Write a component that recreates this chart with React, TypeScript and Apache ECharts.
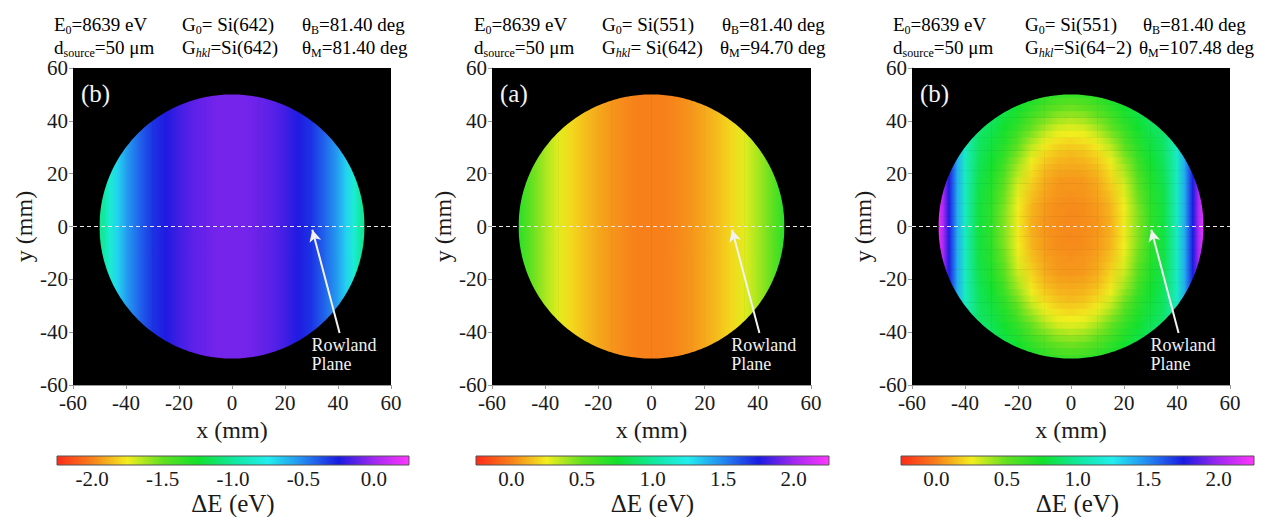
import React, { useEffect, useRef } from 'react';
import * as echarts from 'echarts';

// ---------- data ----------
// distance from the disc centre along x (mm); profiles are mirror-symmetric in x
const X_POS = [0, 5, 10, 15, 20, 25, 30, 35, 40, 43, 46, 48, 50];
// panel 1 (left) ΔE (eV) along x, independent of y
const DE_PANEL1 = [-0.08, -0.08, -0.1, -0.13, -0.18, -0.24, -0.31, -0.42, -0.56, -0.68, -0.83, -0.95, -1.05];
// panel 2 (middle) ΔE (eV) along x, independent of y
const DE_PANEL2 = [0.0, 0.0, 0.02, 0.05, 0.09, 0.14, 0.2, 0.28, 0.38, 0.45, 0.53, 0.6, 0.68];
// panel 3 (right) ΔE (eV): rows at |y| = Y_ROWS, columns at |x| = X_POS
const Y_ROWS = [0, 2.5, 5, 7.5, 10, 12.5, 15, 17.5, 20, 22.5, 25, 27.5, 30, 32.5, 35, 37.5, 40, 42.5, 45, 47.5, 50];
const DE_PANEL3 = [
  [0.02, 0.03, 0.05, 0.11, 0.24, 0.44, 0.66, 0.80, 1.12, 1.42, 1.75, 2.00, 2.20],
  [0.02, 0.03, 0.05, 0.11, 0.24, 0.44, 0.66, 0.80, 1.12, 1.42, 1.75, 2.00, 2.20],
  [0.02, 0.03, 0.06, 0.12, 0.24, 0.44, 0.66, 0.80, 1.12, 1.42, 1.75, 2.00, 2.20],
  [0.03, 0.03, 0.06, 0.12, 0.25, 0.45, 0.67, 0.80, 1.12, 1.42, 1.75, 2.00, 2.20],
  [0.03, 0.04, 0.07, 0.14, 0.26, 0.47, 0.68, 0.81, 1.12, 1.42, 1.75, 2.00, 2.20],
  [0.04, 0.05, 0.08, 0.15, 0.28, 0.48, 0.68, 0.81, 1.12, 1.42, 1.75, 2.00, 2.20],
  [0.05, 0.05, 0.09, 0.17, 0.29, 0.50, 0.70, 0.82, 1.12, 1.42, 1.75, 2.00, 2.20],
  [0.05, 0.06, 0.10, 0.19, 0.32, 0.52, 0.71, 0.83, 1.12, 1.42, 1.75, 2.00, 2.20],
  [0.07, 0.08, 0.12, 0.21, 0.35, 0.55, 0.72, 0.84, 1.12, 1.42, 1.75, 2.00, 2.20],
  [0.09, 0.10, 0.14, 0.23, 0.38, 0.58, 0.74, 0.85, 1.12, 1.42, 1.75, 2.00, 2.20],
  [0.11, 0.12, 0.17, 0.26, 0.42, 0.61, 0.76, 0.86, 1.12, 1.42, 1.75, 2.00, 2.20],
  [0.13, 0.15, 0.20, 0.30, 0.46, 0.65, 0.77, 0.87, 1.12, 1.42, 1.75, 2.00, 2.20],
  [0.17, 0.18, 0.24, 0.34, 0.50, 0.67, 0.79, 0.87, 1.12, 1.42, 1.75, 2.00, 2.20],
  [0.20, 0.22, 0.28, 0.39, 0.55, 0.70, 0.80, 0.88, 1.12, 1.42, 1.75, 2.00, 2.20],
  [0.25, 0.26, 0.33, 0.45, 0.59, 0.72, 0.82, 0.89, 1.12, 1.42, 1.75, 2.00, 2.20],
  [0.29, 0.31, 0.39, 0.50, 0.64, 0.75, 0.84, 0.91, 1.12, 1.42, 1.75, 2.00, 2.20],
  [0.35, 0.38, 0.45, 0.55, 0.68, 0.77, 0.86, 0.92, 1.12, 1.42, 1.75, 2.00, 2.20],
  [0.42, 0.44, 0.51, 0.61, 0.71, 0.80, 0.87, 0.93, 1.12, 1.42, 1.75, 2.00, 2.20],
  [0.48, 0.51, 0.57, 0.66, 0.75, 0.82, 0.88, 0.94, 1.12, 1.42, 1.75, 2.00, 2.20],
  [0.55, 0.57, 0.63, 0.70, 0.77, 0.84, 0.90, 0.96, 1.12, 1.42, 1.75, 2.00, 2.20],
  [0.62, 0.64, 0.68, 0.74, 0.80, 0.86, 0.91, 0.97, 1.12, 1.42, 1.75, 2.00, 2.20],
];
const DISC_RADIUS = 50;
const AXIS_RANGE = [-60, 60];
const CB_RANGES = [[-2.25, 0.25], [-0.25, 2.25], [-0.25, 2.25]];
const CB_TICKS = [[-2, -1.5, -1, -0.5, 0], [0, 0.5, 1, 1.5, 2], [0, 0.5, 1, 1.5, 2]];
const PANEL_TAGS = ['(b)', '(a)', '(b)'];
const PANEL_E0 = ['8639 eV', '8639 eV', '8639 eV'];
const PANEL_DSOURCE = ['50 μm', '50 μm', '50 μm'];
const PANEL_G0 = [' Si(642)', ' Si(551)', ' Si(551)'];
const PANEL_GHKL = ['Si(642)', ' Si(642)', 'Si(64\u22122)'];
const PANEL_THETA_B = ['81.40 deg', '81.40 deg', '81.40 deg'];
const PANEL_THETA_M = ['81.40 deg', '94.70 deg', '107.48 deg'];
const ROWLAND_TIP = [30.3, -1.2];
const ROWLAND_TAIL = [40.6, -40.3];
const ROWLAND_TEXT_AT = [30, -48.3];
const TAG_AT = [-57, 50.5];

// colour map (evenly spaced stops, red → magenta)
const CMAP = ['#ff2a1a', '#f7801a', '#f2ee1e', '#62e020', '#12e02c', '#10e89c', '#22eeee', '#2488f0', '#1a1ae0', '#a028f0', '#ff36ff'];

// ---------- layout ----------
const FONT = 'Liberation Serif';
const GRIDS = [
  { left: 73, top: 68, width: 318, height: 317 },
  { left: 492, top: 68, width: 319, height: 317 },
  { left: 912, top: 68, width: 318, height: 317 },
];
const CB_GRIDS = [
  { left: 57, top: 456, width: 352, height: 13 },
  { left: 476, top: 456, width: 353, height: 13 },
  { left: 901, top: 456, width: 353, height: 13 },
];
const HEAD_COLS = [[54, 182, 302], [474, 602, 722], [893, 1025, 1143]];
const HEAD_COL3_L2 = [302, 720, 1139];

function hexToRgb(h: string) {
  const n = parseInt(h.slice(1), 16);
  return [(n >> 16) & 255, (n >> 8) & 255, n & 255];
}
const CMAP_RGB = CMAP.map(hexToRgb);
function colorOf(v: number, range: number[]) {
  let t = (v - range[0]) / (range[1] - range[0]);
  t = Math.max(0, Math.min(1, t));
  const f = t * (CMAP_RGB.length - 1);
  const i = Math.min(CMAP_RGB.length - 2, Math.floor(f));
  const u = f - i;
  const a = CMAP_RGB[i], b = CMAP_RGB[i + 1];
  const c = a.map((x, k) => Math.round(x + (b[k] - x) * u));
  return `rgb(${c[0]},${c[1]},${c[2]})`;
}

function mirrored(vals: number[]) {
  const xs: number[] = [];
  const vs: number[] = [];
  for (let i = X_POS.length - 1; i > 0; i--) { xs.push(-X_POS[i]); vs.push(vals[i]); }
  for (let i = 0; i < X_POS.length; i++) { xs.push(X_POS[i]); vs.push(vals[i]); }
  return { xs, vs };
}

// segments [x0, yLow, yHigh, v0, x1, v1]
function stripSegments(vals: number[], yLow: number, yHigh: number) {
  const { xs, vs } = mirrored(vals);
  const out: number[][] = [];
  for (let i = 0; i < xs.length - 1; i++) out.push([xs[i], yLow, yHigh, vs[i], xs[i + 1], vs[i + 1]]);
  return out;
}

function panel3Segments() {
  const out: number[][] = [];
  const half = (Y_ROWS[1] - Y_ROWS[0]) / 2;
  Y_ROWS.forEach((y, j) => {
    const ys = y === 0 ? [0] : [y, -y];
    ys.forEach((yy) => {
      out.push(...stripSegments(DE_PANEL3[j], yy - half - 0.1, yy + half + 0.1));
    });
  });
  return out;
}

const RICH = {
  n: { fontSize: 19, fontFamily: FONT, color: '#1a1a1a' },
  s: { fontSize: 12, fontFamily: FONT, color: '#1a1a1a', padding: [12, 0, 0, 0] },
  si: { fontSize: 12, fontFamily: FONT, color: '#1a1a1a', fontStyle: 'italic', padding: [12, 0, 0, 0] },
};

export default function App() {
  const ref = useRef<HTMLDivElement>(null);
  useEffect(() => {
    document.body.style.margin = '0';
    const chart = echarts.init(ref.current!, null, { renderer: 'svg' });

    const xAxes: any[] = [];
    const yAxes: any[] = [];
    const series: any[] = [];
    const graphics: any[] = [];

    GRIDS.forEach((g, p) => {
      xAxes.push({
        gridIndex: p, type: 'value', min: AXIS_RANGE[0], max: AXIS_RANGE[1], interval: 20,
        name: 'x (mm)', nameLocation: 'middle', nameGap: 29,
        nameTextStyle: { fontSize: 24, fontFamily: FONT, color: '#1a1a1a' },
        axisLine: { show: true, onZero: false, lineStyle: { color: '#999' } },
        axisTick: { show: true, length: 4, lineStyle: { color: '#999' } },
        axisLabel: { fontSize: 21, fontFamily: FONT, color: '#1a1a1a', margin: 7 },
        splitLine: { show: false },
      });
      yAxes.push({
        gridIndex: p, type: 'value', min: AXIS_RANGE[0], max: AXIS_RANGE[1], interval: 20,
        name: 'y (mm)', nameLocation: 'middle', nameGap: 30,
        nameTextStyle: { fontSize: 24, fontFamily: FONT, color: '#1a1a1a' },
        axisLine: { show: true, onZero: false, lineStyle: { color: '#999' } },
        axisTick: { show: true, length: 4, lineStyle: { color: '#999' } },
        axisLabel: { fontSize: 21, fontFamily: FONT, color: '#1a1a1a', margin: 5 },
        splitLine: { show: false },
      });
    });

    CB_GRIDS.forEach((g, p) => {
      const range = CB_RANGES[p];
      xAxes.push({
        gridIndex: 3 + p, type: 'value', min: range[0], max: range[1],
        name: 'ΔE (eV)', nameLocation: 'middle', nameGap: 26,
        nameTextStyle: { fontSize: 25, fontFamily: FONT, color: '#1a1a1a' },
        axisLine: { show: false },
        axisTick: { show: true, inside: true, length: 3, customValues: CB_TICKS[p], lineStyle: { color: '#444' } },
        axisLabel: { show: true, customValues: CB_TICKS[p], formatter: (v: number) => v.toFixed(1), fontSize: 21, fontFamily: FONT, color: '#1a1a1a', margin: 3 },
        splitLine: { show: false },
      });
      yAxes.push({ gridIndex: 3 + p, type: 'value', min: 0, max: 1, show: false });
    });

    GRIDS.forEach((g, p) => {
      const range = CB_RANGES[p];
      const segs = p === 0 ? stripSegments(DE_PANEL1, -52, 52)
        : p === 1 ? stripSegments(DE_PANEL2, -52, 52) : panel3Segments();

      series.push({
        type: 'custom', xAxisIndex: p, yAxisIndex: p, coordinateSystem: 'cartesian2d',
        silent: true, z: 1, clip: true,
        data: segs,
        renderItem: (params: any, api: any) => {
          const x0 = api.value(0), y0 = api.value(1), y1 = api.value(2), v0 = api.value(3), x1 = api.value(4), v1 = api.value(5);
          const a = api.coord([x0, y1]);
          const b = api.coord([x1, y0]);
          return {
            type: 'rect',
            shape: { x: a[0] - 0.3, y: a[1], width: b[0] - a[0] + 0.6, height: b[1] - a[1] },
            style: {
              fill: new echarts.graphic.LinearGradient(0, 0, 1, 0, [
                { offset: 0, color: colorOf(v0, range) },
                { offset: 1, color: colorOf(v1, range) },
              ]),
            },
          };
        },
      });

      // black mask outside the disc
      series.push({
        type: 'custom', xAxisIndex: p, yAxisIndex: p, coordinateSystem: 'cartesian2d',
        silent: true, z: 2, clip: true, data: [[0, 0]],
        renderItem: (params: any, api: any) => {
          const lo = AXIS_RANGE[0], hi = AXIS_RANGE[1];
          const pts: number[][] = [];
          pts.push(api.coord([lo, 0]), api.coord([lo, lo]), api.coord([hi, lo]), api.coord([hi, hi]), api.coord([lo, hi]), api.coord([lo, 0]));
          for (let k = 0; k <= 360; k++) {
            const ang = Math.PI - (k * Math.PI) / 180;
            pts.push(api.coord([DISC_RADIUS * Math.cos(ang), DISC_RADIUS * Math.sin(ang)]));
          }
          return { type: 'polygon', shape: { points: pts }, style: { fill: '#000', stroke: null } };
        },
      });

      // dashed Rowland-plane line, arrow and annotations
      series.push({
        type: 'line', xAxisIndex: p, yAxisIndex: p, z: 3, silent: true,
        data: [[AXIS_RANGE[0], 0], [AXIS_RANGE[1], 0]],
        symbol: 'none',
        lineStyle: { color: '#e8e8e8', width: 1.2, type: [4, 3] },
        markLine: {
          silent: true, symbol: ['none', 'arrow'], symbolSize: [9, 12],
          label: { show: false },
          lineStyle: { color: '#f2f2f2', width: 2, type: 'solid' },
          data: [[{ coord: ROWLAND_TAIL }, { coord: ROWLAND_TIP }]],
        },
        markPoint: {
          silent: true, symbol: 'circle', symbolSize: 0,
          data: [
            { coord: TAG_AT, label: { show: true, formatter: PANEL_TAGS[p], position: 'right', distance: 0, color: '#f4f4f4', fontSize: 25, fontFamily: FONT } },
            { coord: ROWLAND_TEXT_AT, label: { show: true, formatter: 'Rowland\nPlane', position: 'right', distance: 0, align: 'left', color: '#f0f0f0', fontSize: 18, lineHeight: 19, fontFamily: FONT } },
          ],
        },
      });

      // colour bar
      const ci = 3 + p;
      series.push({
        type: 'custom', xAxisIndex: ci, yAxisIndex: ci, coordinateSystem: 'cartesian2d', silent: true,
        data: [[range[0], range[1]]],
        renderItem: (params: any, api: any) => {
          const a = api.coord([api.value(0), 1]);
          const b = api.coord([api.value(1), 0]);
          return {
            type: 'rect',
            shape: { x: a[0], y: a[1], width: b[0] - a[0], height: b[1] - a[1] },
            style: {
              fill: new echarts.graphic.LinearGradient(0, 0, 1, 0, CMAP.map((c, k) => ({ offset: k / (CMAP.length - 1), color: c }))),
              stroke: '#555', lineWidth: 1,
            },
          };
        },
      });

      // header text
      const cols = HEAD_COLS[p];
      const l1 = 12, l2 = 35;
      graphics.push(
        { type: 'text', x: cols[0], y: l1, style: { text: `{n|E}{s|0}{n|=${PANEL_E0[p]}}`, rich: RICH } },
        { type: 'text', x: cols[1], y: l1, style: { text: `{n|G}{s|0}{n|=${PANEL_G0[p]}}`, rich: RICH } },
        { type: 'text', x: cols[2], y: l1, style: { text: `{n|θ}{s|B}{n|=${PANEL_THETA_B[p]}}`, rich: RICH } },
        { type: 'text', x: cols[0], y: l2, style: { text: `{n|d}{s|source}{n|=${PANEL_DSOURCE[p]}}`, rich: RICH } },
        { type: 'text', x: cols[1], y: l2, style: { text: `{n|G}{si|hkl}{n|=${PANEL_GHKL[p]}}`, rich: RICH } },
        { type: 'text', x: HEAD_COL3_L2[p], y: l2, style: { text: `{n|θ}{s|M}{n|=${PANEL_THETA_M[p]}}`, rich: RICH } },
      );
    });

    chart.setOption({
      animation: false,
      backgroundColor: '#fff',
      grid: [
        ...GRIDS.map((g) => ({ ...g, show: true, backgroundColor: '#000', borderWidth: 0 })),
        ...CB_GRIDS.map((g) => ({ ...g })),
      ],
      xAxis: xAxes,
      yAxis: yAxes,
      series,
      graphic: graphics,
    });
    return () => chart.dispose();
  }, []);
  return <div ref={ref} style={{ width: 1269, height: 517 }} />;
}
